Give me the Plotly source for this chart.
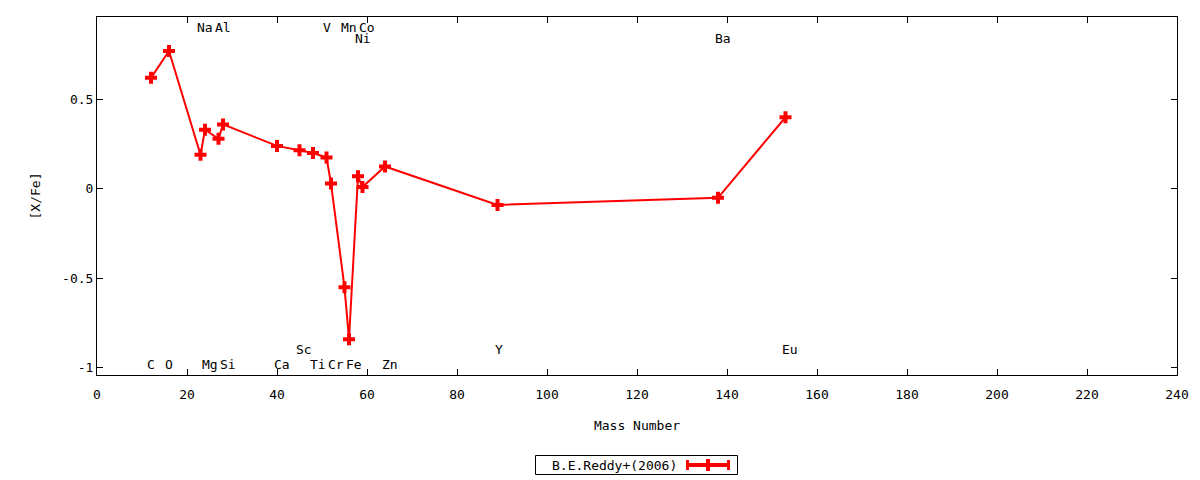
import plotly.graph_objects as go

# Data: mass number and [X/Fe] (B.E.Reddy+ 2006)
elements = ["C", "O", "Na", "Mg", "Al", "Si", "Ca", "Sc", "Ti", "V", "Cr", "Mn", "Fe", "Ni", "Co", "Zn", "Y", "Ba", "Eu"]
mass = [12, 16, 23, 24, 27, 28, 40, 45, 48, 51, 52, 55, 56, 58, 59, 64, 89, 138, 153]
xfe = [0.62, 0.77, 0.19, 0.33, 0.28, 0.36, 0.24, 0.215, 0.20, 0.175, 0.03, -0.55, -0.84, 0.07, 0.01, 0.125, -0.09, -0.05, 0.40]

# Element labels drawn inside the plot
label_text = ["C", "O", "Mg", "Si", "Ca", "Ti", "Cr", "Fe", "Zn",
              "Sc", "Y", "Eu",
              "Na", "Al", "V", "Mn", "Co",
              "Ni", "Ba"]
label_x = [12, 16, 25, 29, 41, 49, 53, 57, 65,
           46, 89.3, 154,
           24, 28, 51, 56, 60,
           59, 139]
label_y = [-0.98, -0.98, -0.98, -0.98, -0.98, -0.98, -0.98, -0.98, -0.98,
           -0.90, -0.90, -0.90,
           0.90, 0.90, 0.90, 0.90, 0.90,
           0.84, 0.84]

FONT = "DejaVu Sans Mono"
FS = 13
RED = "#ff0000"

# page body has an 8px margin; compensate so the plot lands where the reference has it
OFF = 8
W, H = 1200 - OFF, 480 - OFF
ml, mr, mt, mb = 97 - OFF, 23, 17 - OFF, 105
pw, ph = W - ml - mr, H - mt - mb

def px(xs):
    return (xs - OFF - ml) / pw

def py(ys):
    return (H - mb - (ys - OFF)) / ph

fig = go.Figure()
fig.add_trace(go.Scatter(
    x=mass, y=xfe, mode="lines+markers",
    line=dict(color=RED, width=2),
    marker=dict(symbol="cross", size=10, color=RED),
    name="B.E.Reddy+(2006)", showlegend=False,
))

for t, lx, ly in zip(label_text, label_x, label_y):
    fig.add_annotation(x=lx, y=ly, text=t, showarrow=False, xref="x", yref="y",
                       font=dict(family=FONT, size=FS, color="black"))

# Legend (gnuplot style: text left, sample right)
fig.add_shape(type="rect", xref="paper", yref="paper",
              x0=px(535.5), x1=px(737.5), y0=py(474.5), y1=py(455.5),
              line=dict(color="black", width=1), fillcolor="white")
fig.add_annotation(xref="paper", yref="paper", x=px(679), y=py(465), xanchor="right",
                   yanchor="middle", text="B.E.Reddy+(2006)", showarrow=False,
                   font=dict(family=FONT, size=FS, color="black"))
fig.add_shape(type="line", xref="paper", yref="paper",
              x0=px(687), x1=px(729), y0=py(465), y1=py(465),
              line=dict(color=RED, width=4))
for cx in (687.5, 728.5):
    fig.add_shape(type="line", xref="paper", yref="paper",
                  x0=px(cx), x1=px(cx), y0=py(460), y1=py(470),
                  line=dict(color=RED, width=3))
fig.add_shape(type="line", xref="paper", yref="paper",
              x0=px(708), x1=px(708), y0=py(459), y1=py(471),
              line=dict(color=RED, width=4))

fig.update_layout(
    width=W, height=H,
    margin=dict(l=ml, r=mr, t=mt, b=mb),
    plot_bgcolor="white", paper_bgcolor="white",
    font=dict(family=FONT, size=FS, color="black"),
    showlegend=False,
)
fig.update_xaxes(
    range=[0, 240], tickvals=list(range(0, 241, 20)),
    ticks="inside", ticklen=6, tickcolor="black", mirror="ticks",
    showline=True, linecolor="black", linewidth=1, showgrid=False, zeroline=False,
    ticklabelstandoff=7, tickfont=dict(family=FONT, size=FS),
    title=dict(text="Mass Number", standoff=20, font=dict(family=FONT, size=FS)),
)
fig.update_yaxes(
    range=[-1.04, 0.96], tickvals=[-1, -0.5, 0, 0.5], ticktext=["-1", "-0.5", "0", "0.5"],
    ticks="inside", ticklen=6, tickcolor="black", mirror="ticks",
    showline=True, linecolor="black", linewidth=1, showgrid=False, zeroline=False,
    tickfont=dict(family=FONT, size=FS),
    title=dict(text="[X/Fe]", standoff=18, font=dict(family=FONT, size=FS)),
)

fig.write_html("out.html")
